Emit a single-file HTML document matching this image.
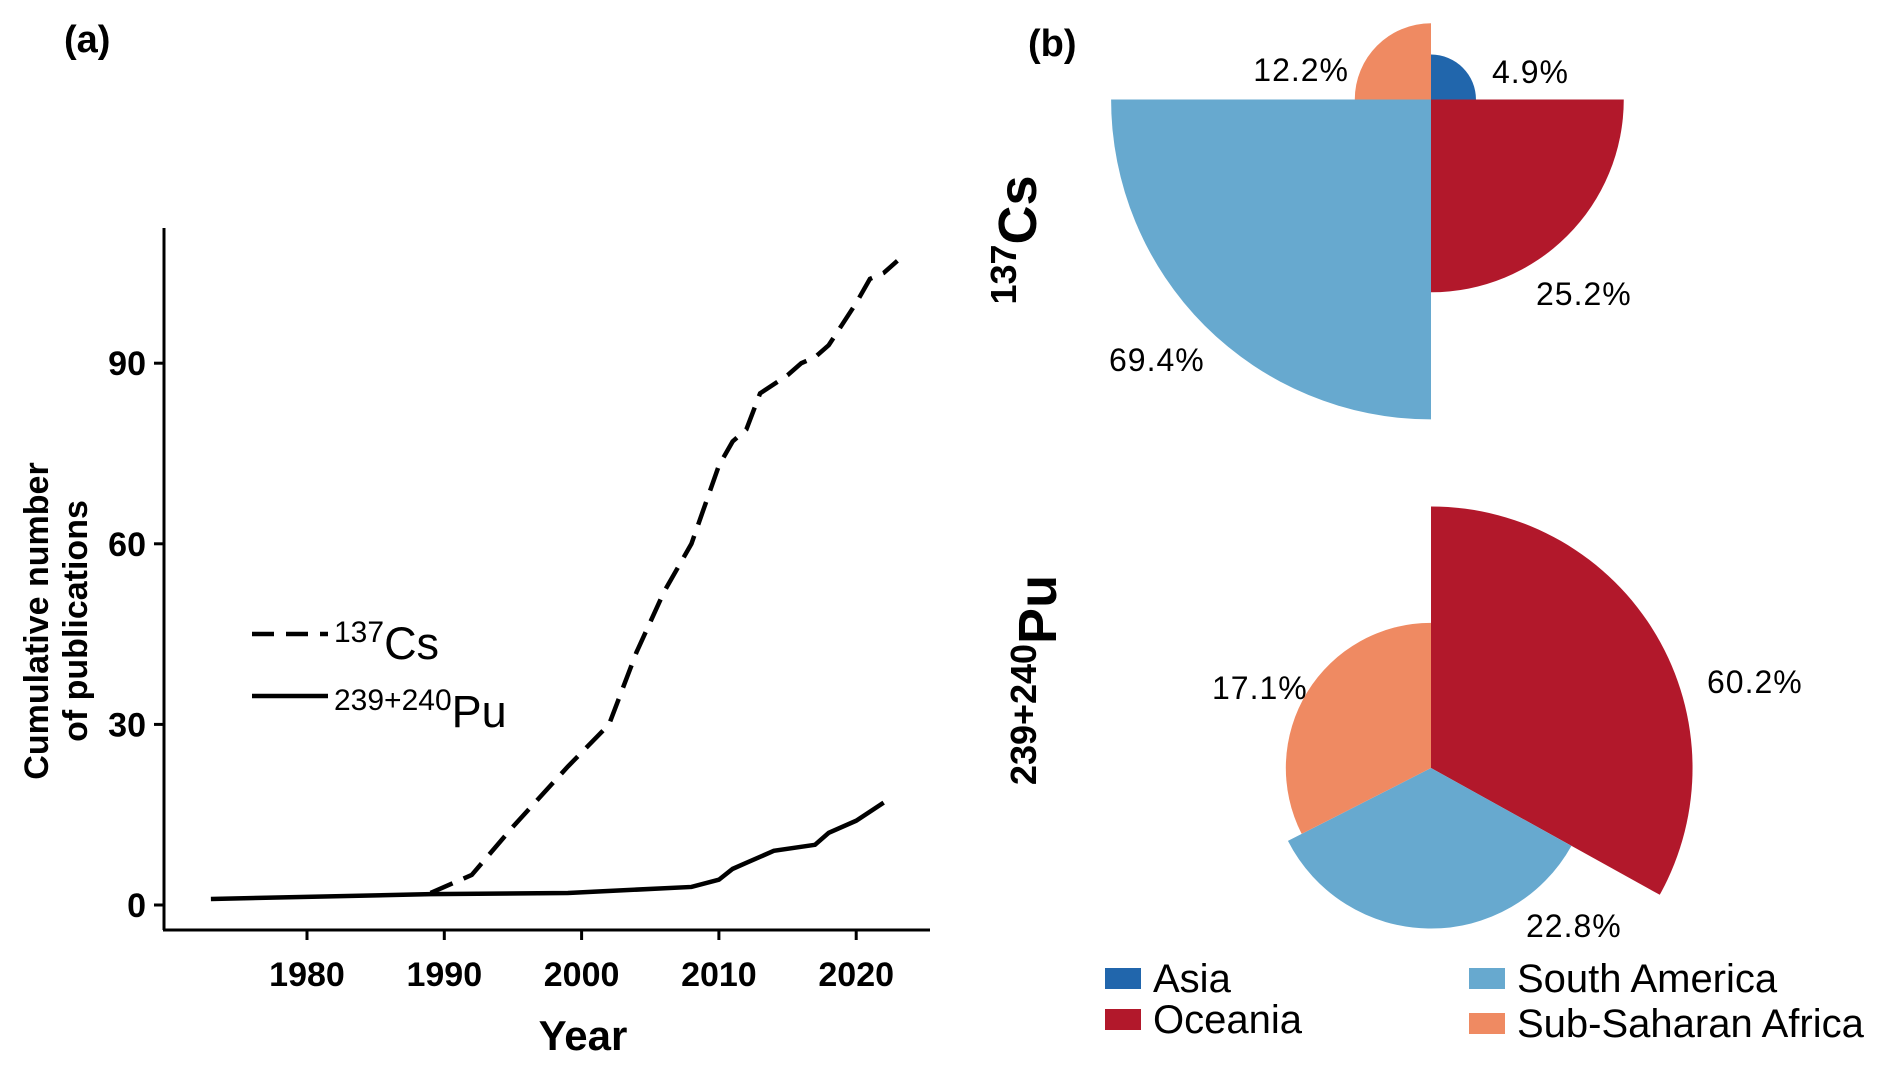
<!DOCTYPE html>
<html><head><meta charset="utf-8"><style>
html,body{margin:0;padding:0;background:#fff;}
svg{display:block;font-family:"Liberation Sans",Arial,sans-serif;}
</style></head><body>
<svg id="fig" width="1892" height="1065" viewBox="0 0 1892 1065">
<text x="64" y="52" font-size="38" font-weight="bold">(a)</text>
<text x="1028" y="56" font-size="38" font-weight="bold">(b)</text>
<g id="lineChart"></g>
<g id="pies"></g>
</svg>
<script>
const csYears=[1989,1992,1995,1997,1999,2002,2004,2006,2008,2010,2011,2012,2013,2015,2016,2017,2018,2020,2021,2022,2023];
const csValues=[2,5,13,18,23,30,42,52,60,73,77,79,85,88,90,91,93,100,104,105,107];
const puYears=[1973,1989,1999,2008,2010,2011,2012,2014,2017,2018,2020,2022];
const puValues=[1,1.8,2,3,4.2,6,7,9,10,12,14,17];
const xTicks=[1980,1990,2000,2010,2020];
const yTicks=[0,30,60,90];
const regions=["Asia","Oceania","South America","Sub-Saharan Africa"];
const regionColors=["#2166ac","#b2182b","#67a9cf","#ef8a62"];
const csShares=[4.9,25.2,69.4,12.2];
const puShares=[0,60.2,22.8,17.1];
const NS="http://www.w3.org/2000/svg";
function mk(tag,attrs,parent,txt){const e=document.createElementNS(NS,tag);for(const k in attrs)e.setAttribute(k,attrs[k]);if(txt!==undefined)e.textContent=txt;parent.appendChild(e);return e;}
const X=y=>307+(y-1980)*13.73;
const Y=v=>905-v*6.02;
const lc=document.getElementById('lineChart');
let e;
e=mk('line',{x1:164,y1:228,x2:164,y2:930,stroke:'#000','stroke-width':3},lc);


e=mk('line',{x1:163,y1:930,x2:930,y2:930,stroke:'#000','stroke-width':3},lc);


xTicks.forEach(t=>{
  mk('line',{x1:X(t),y1:930,x2:X(t),y2:940,stroke:'#000','stroke-width':3},lc);
  e=mk('text',{x:X(t),y:986,'font-size':34,'font-weight':'bold','text-anchor':'middle'},lc,String(t));
  
  
});
yTicks.forEach(t=>{
  mk('line',{x1:154,y1:Y(t),x2:164,y2:Y(t),stroke:'#000','stroke-width':3},lc);
  e=mk('text',{x:146,y:Y(t)+12,'font-size':34,'font-weight':'bold','text-anchor':'end'},lc,String(t));
  
  
});
e=mk('text',{x:583,y:1050,'font-size':42,'font-weight':'bold','text-anchor':'middle'},lc,'Year');


e=mk('text',{transform:'translate(48,621) rotate(-90)','font-size':34,'font-weight':'bold','text-anchor':'middle'},lc,'Cumulative number');


e=mk('text',{transform:'translate(87,621) rotate(-90)','font-size':34,'font-weight':'bold','text-anchor':'middle'},lc,'of publications');


e=mk('polyline',{points:csYears.map((y,i)=>X(y)+','+Y(csValues[i])).join(' '),fill:'none',stroke:'#000','stroke-width':4.5,'stroke-dasharray':'24,12'},lc);


e=mk('polyline',{points:puYears.map((y,i)=>X(y)+','+Y(puValues[i])).join(' '),fill:'none',stroke:'#000','stroke-width':4.5},lc);


e=mk('line',{x1:252,y1:634,x2:328,y2:634,stroke:'#000','stroke-width':4.5,'stroke-dasharray':'22,12'},lc);


e=mk('text',{x:334,y:659,'font-size':45},lc);
e.innerHTML='<tspan font-size="30" dy="-17">137</tspan><tspan dy="17">Cs</tspan>';


e=mk('text',{x:334,y:727,'font-size':45},lc);
e.innerHTML='<tspan font-size="30" dy="-17">239+240</tspan><tspan dy="17">Pu</tspan>';


e=mk('line',{x1:252,y1:696,x2:328,y2:696,stroke:'#000','stroke-width':4.5},lc);



const pg=document.getElementById('pies');
function wedge(cx,cy,r,a0,a1){const p=a=>[cx+r*Math.sin(a*Math.PI/180),cy-r*Math.cos(a*Math.PI/180)];const s=p(a0),t=p(a1);return `M${cx},${cy} L${s[0]},${s[1]} A${r},${r} 0 ${a1-a0>180?1:0} 1 ${t[0]},${t[1]} Z`;}
const CX=1431;
const csAngles=[0,90,180,270,360];
const csR=v=>v<20?24+4.28*v:38.4*Math.sqrt(v);
csShares.forEach((v,i)=>{
  e=mk('path',{d:wedge(CX,99.5,csR(v),csAngles[i],csAngles[i+1]),fill:regionColors[i]},pg);
  
  
});
const puAngles=[0,0,119,243,360];
const puR=v=>99+2.7*v;
puShares.forEach((v,i)=>{
  if(v<=0)return;
  e=mk('path',{d:wedge(CX,768,puR(v),puAngles[i],puAngles[i+1]),fill:regionColors[i]},pg);
  
  
});
const lbls=[[csShares[0],1492,83,'start'],[csShares[3],1349,81,'end'],[csShares[1],1536,305,'start'],[csShares[2],1109,371,'start'],[puShares[3],1212,699,'start'],[puShares[1],1707,693,'start'],[puShares[2],1526,937,'start']];
lbls.forEach(l=>{
  e=mk('text',{x:l[1],y:l[2],'font-size':32,'text-anchor':l[3],'letter-spacing':'1'},pg,l[0].toFixed(1)+'%');
  
  
});
e=mk('text',{transform:'translate(1036,240) rotate(-90)','font-size':54,'font-weight':'bold','text-anchor':'middle'},pg);
e.innerHTML='<tspan font-size="36" dy="-20">137</tspan><tspan dy="20">Cs</tspan>';


e=mk('text',{transform:'translate(1056,680) rotate(-90)','font-size':54,'font-weight':'bold','text-anchor':'middle'},pg);
e.innerHTML='<tspan font-size="36" dy="-20">239+240</tspan><tspan dy="20">Pu</tspan>';


const legPos=[[1105,968],[1105,1009],[1469,968],[1469,1013]];
regions.forEach((r,i)=>{
  e=mk('rect',{x:legPos[i][0],y:legPos[i][1],width:36,height:21,fill:regionColors[i]},pg);
  
  
  e=mk('text',{x:legPos[i][0]+48,y:legPos[i][1]+24,'font-size':40},pg,r);
  
  
});
</script>
</body></html>
